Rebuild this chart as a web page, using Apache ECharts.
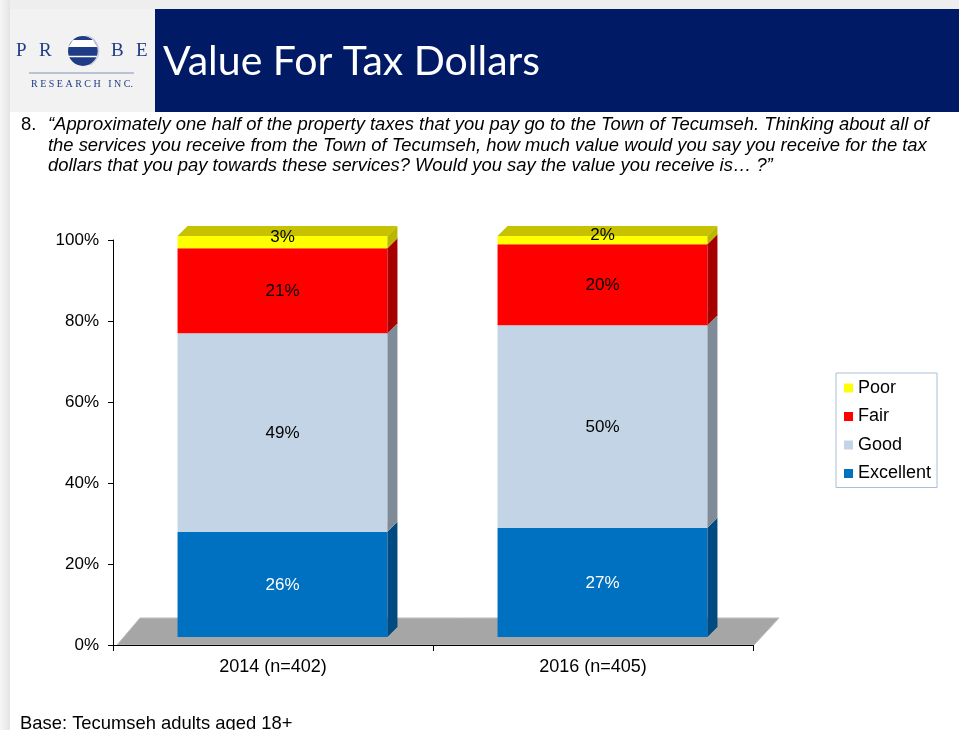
<!DOCTYPE html>
<html>
<head>
<meta charset="utf-8">
<script src="https://cdn.jsdelivr.net/npm/echarts@6/dist/echarts.min.js"></script>
<style>
html,body{margin:0;padding:0;background:#fff;}
#c{width:959px;height:730px;}
</style>
</head>
<body>
<div id="c"></div>
<script>
// ---- data ----
const categories = ['2014 (n=402)', '2016 (n=405)'];
const excellent = [26, 27];
const good = [49, 50];
const fair = [21, 20];
const poor = [3, 2];
const yTicks = [0, 20, 40, 60, 80, 100];

const seriesDefs = [
  { name: 'Excellent', values: excellent, front: '#0070c0', side: '#004a82', top: '#005a9e', label: '#ffffff' },
  { name: 'Good',      values: good,      front: '#c2d4e5', side: '#7f8b97', top: '#a3b3c2', label: '#000000' },
  { name: 'Fair',      values: fair,      front: '#ff0000', side: '#a60000', top: '#c80000', label: '#000000' },
  { name: 'Poor',      values: poor,      front: '#ffff00', side: '#b8b800', top: '#c6c200', label: '#000000' }
];

const DX = 9.5, DY = -8, D = 10, BAR_RATIO = 0.656;
const FONT = '"Liberation Sans", Arial, sans-serif';

// cumulative bases
const bases = seriesDefs.map(() => categories.map(() => 0));
for (let s = 1; s < seriesDefs.length; s++) {
  for (let c = 0; c < categories.length; c++) {
    bases[s][c] = bases[s - 1][c] + seriesDefs[s - 1].values[c];
  }
}

function makeRender(def, isTop) {
  return function (params, api) {
    const ci = api.value(0), base = api.value(1), val = api.value(2);
    const bw = api.size([1, 0])[0] * BAR_RATIO;
    const p0 = api.coord([ci, base]);
    const p1 = api.coord([ci, base + val]);
    const x0 = p0[0] - bw / 2 + DX, x1 = x0 + bw;
    const yb = p0[1] + DY, yt = p1[1] + DY;
    const children = [
      { type: 'rect', shape: { x: x0, y: yt, width: bw, height: yb - yt }, style: { fill: def.front } },
      { type: 'polygon', shape: { points: [[x1, yt], [x1 + D, yt - D], [x1 + D, yb - D], [x1, yb]] }, style: { fill: def.side } }
    ];
    if (isTop) {
      children.push({ type: 'polygon', shape: { points: [[x0, yt], [x0 + D, yt - D], [x1 + D, yt - D], [x1, yt]] }, style: { fill: def.top } });
    }
    let ly = (yt + yb) / 2 + 1;
    if (yb - yt < 20) ly = (yt - D + yb) / 2;
    children.push({
      type: 'text', x: (x0 + x1) / 2, y: ly, z2: 10,
      style: { text: Math.round(val) + '%', fill: def.label, font: '17px ' + FONT, align: 'center', verticalAlign: 'middle' }
    });
    return { type: 'group', children: children };
  };
}

const series = [{
  name: 'floor', type: 'custom', z: -1, silent: true, clip: false,
  data: [[0, 0, 0]],
  renderItem: function (params, api) {
    const cs = params.coordSys;
    const x = cs.x, y = cs.y, w = cs.width, h = cs.height;
    return {
      type: 'polygon',
      shape: { points: [[x + 4, y + h], [x + 27, y + h - 27], [x + w + 26, y + h - 27], [x + w + 1, y + h]] },
      style: { fill: '#a6a6a6', stroke: '#bdbdbd', lineWidth: 1 }
    };
  }
}];

seriesDefs.forEach(function (def, s) {
  series.push({
    name: def.name, type: 'custom', clip: false,
    itemStyle: { color: def.front },
    encode: { x: 0, y: [1, 2] },
    data: categories.map(function (c, i) { return [i, bases[s][i], def.values[i]]; }),
    renderItem: makeRender(def, s === seriesDefs.length - 1)
  });
});

const NAVY = '#1f3d86';
const QFONT = 'italic 18.4px ' + FONT;
const graphic = [
  { type: 'rect', shape: { x: 0, y: 0, width: 959, height: 9 }, style: { fill: '#eeeeee' } },
  { type: 'rect', shape: { x: 0, y: 0, width: 10, height: 730 },
    style: { fill: new echarts.graphic.LinearGradient(0, 0, 1, 0, [{ offset: 0, color: '#f6f6f6' }, { offset: 1, color: '#e4e4e4' }]) } },
  { type: 'rect', shape: { x: 10, y: 9, width: 145, height: 103 }, style: { fill: '#f2f2f2' } },
  { type: 'rect', shape: { x: 155, y: 9, width: 804, height: 103 }, style: { fill: '#001a66' } },
  { type: 'text', x: 163, y: 62, style: { text: 'Value For Tax Dollars', fill: '#ffffff', font: '41px Lato, "Open Sans", sans-serif', verticalAlign: 'middle' } },
  // logo
  { type: 'text', x: 16, y: 51, style: { text: 'P', fill: NAVY, font: '19px "Liberation Serif", serif', verticalAlign: 'middle' } },
  { type: 'text', x: 39, y: 51, style: { text: 'R', fill: NAVY, font: '19px "Liberation Serif", serif', verticalAlign: 'middle' } },
  { type: 'text', x: 111, y: 51, style: { text: 'B', fill: NAVY, font: '19px "Liberation Serif", serif', verticalAlign: 'middle' } },
  { type: 'text', x: 136, y: 51, style: { text: 'E', fill: NAVY, font: '19px "Liberation Serif", serif', verticalAlign: 'middle' } },
  { type: 'circle', shape: { cx: 83, cy: 51, r: 15 }, style: { fill: NAVY } },
  { type: 'polygon', shape: { points: [[72.8, 40], [93.2, 40], [97.6, 47], [68.4, 47]] }, style: { fill: '#ffffff' } },
  { type: 'line', shape: { x1: 69, y1: 56.5, x2: 97, y2: 56.5 }, style: { stroke: '#ffffff', lineWidth: 1.5 } },
  { type: 'arc', shape: { cx: 83, cy: 51, r: 15.5, startAngle: -1.3, endAngle: 1.1 }, style: { stroke: '#c8c8d8', lineWidth: 1.5, fill: null } },
  { type: 'line', shape: { x1: 29, y1: 73, x2: 134, y2: 73 }, style: { stroke: '#8194ba', lineWidth: 1 } },
  { type: 'text', x: 82, y: 84, style: { text: 'R E S E A R C H   I N C.', fill: NAVY, font: '10px "Liberation Serif", serif', align: 'center', verticalAlign: 'middle' } },
  // question
  { type: 'text', x: 21, y: 125, style: { text: '8.', fill: '#000', font: '18.4px ' + FONT, verticalAlign: 'middle' } },
  { type: 'text', x: 48, y: 125, style: { text: '\u201CApproximately one half of the property taxes that you pay go to the Town of Tecumseh. Thinking about all of', fill: '#000', font: QFONT, verticalAlign: 'middle' } },
  { type: 'text', x: 48, y: 146, style: { text: 'the services you receive from the Town of Tecumseh, how much value would you say you receive for the tax', fill: '#000', font: QFONT, verticalAlign: 'middle' } },
  { type: 'text', x: 48, y: 166, style: { text: 'dollars that you pay towards these services? Would you say the value you receive is\u2026 ?\u201D', fill: '#000', font: QFONT, verticalAlign: 'middle' } },
  { type: 'text', x: 20, y: 724, style: { text: 'Base: Tecumseh adults aged 18+', fill: '#000', font: '18.4px ' + FONT, verticalAlign: 'middle' } }
];

const chart = echarts.init(document.getElementById('c'), null, { renderer: 'canvas' });
chart.setOption({
  animation: false,
  backgroundColor: '#ffffff',
  graphic: graphic,
  grid: { left: 113, right: 206, top: 240, bottom: 85, containLabel: false },
  legend: {
    orient: 'vertical', left: 836, top: 373,
    data: ['Poor', 'Fair', 'Good', 'Excellent'],
    icon: 'rect', itemWidth: 9, itemHeight: 9, itemGap: 10.5,
    padding: [6, 6, 5, 8],
    borderColor: '#a9bfd6', borderWidth: 1,
    textStyle: { fontSize: 18, fontFamily: FONT, color: '#000' },
    selectedMode: false
  },
  xAxis: {
    type: 'category', data: categories,
    axisLine: { lineStyle: { color: '#000', width: 1 } },
    axisTick: { show: true, length: 6, lineStyle: { color: '#000' } },
    axisLabel: { color: '#000', fontSize: 18, fontFamily: FONT, margin: 13 },
    splitLine: { show: false }
  },
  yAxis: {
    type: 'value', min: yTicks[0], max: yTicks[yTicks.length - 1], interval: yTicks[1] - yTicks[0],
    axisLine: { show: true, lineStyle: { color: '#000', width: 1 } },
    axisTick: { show: true, length: 5, lineStyle: { color: '#000' } },
    axisLabel: { color: '#000', fontSize: 17, fontFamily: FONT, margin: 14, formatter: '{value}%' },
    splitLine: { show: false }
  },
  series: series
});
</script>
</body>
</html>
